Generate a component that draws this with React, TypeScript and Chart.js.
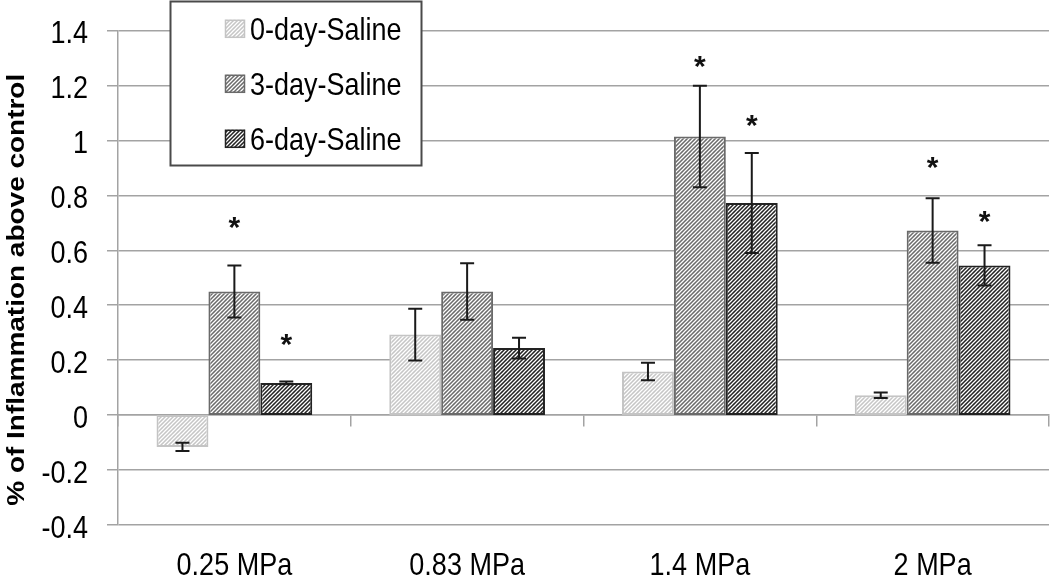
import React, { useEffect, useRef } from 'react';
import { Chart, registerables } from 'chart.js';

Chart.register(...registerables);

// ---------- data ----------
const categories = ['0.25 MPa', '0.83 MPa', '1.4 MPa', '2 MPa'];
const seriesNames = ['0-day-Saline', '3-day-Saline', '6-day-Saline'];

const day0 = [-0.116, 0.293, 0.159, 0.072];
const day0Err = [0.015, 0.094, 0.032, 0.01];
const day3 = [0.45, 0.45, 1.014, 0.672];
const day3Err = [0.095, 0.103, 0.185, 0.117];
const day6 = [0.117, 0.244, 0.772, 0.545];
const day6Err = [0.005, 0.038, 0.182, 0.073];

// significance asterisk positions (value units), null = none
const day0Star: (number | null)[] = [null, null, null, null];
const day3Star: (number | null)[] = [0.699, null, 1.287, 0.918];
const day6Star: (number | null)[] = [0.275, null, 1.071, 0.72];

const yMin = -0.4;
const yMax = 1.4;
const yStep = 0.2;
const yTitle = '% of Inflammation above control';

const seriesValues = [day0, day3, day6];
const seriesErrors = [day0Err, day3Err, day6Err];
const seriesStars = [day0Star, day3Star, day6Star];

// ---------- styles ----------
const FONT = "'Liberation Sans', Arial, sans-serif";
const STRETCH = 1.19; // the source text is slightly tall / condensed
const stripeColors = ['#c6c6c6', '#6c6c6c', '#242424'];
const borderColors = ['#c4c4c4', '#6a6a6a', '#222222'];
const gridColor = '#a3a3a3';

function makePattern(color: string): CanvasPattern | string {
  const p = 4;
  const c = document.createElement('canvas');
  c.width = p;
  c.height = p;
  const g = c.getContext('2d');
  if (!g) return color;
  g.fillStyle = color;
  g.fillRect(0, 0, p, p);
  g.strokeStyle = '#ffffff';
  g.lineWidth = 1.25;
  g.beginPath();
  g.moveTo(-1, p + 1);
  g.lineTo(p + 1, -1);
  g.moveTo(-1, 1);
  g.lineTo(1, -1);
  g.moveTo(p - 1, p + 1);
  g.lineTo(p + 1, p - 1);
  g.stroke();
  return g.createPattern(c, 'repeat') || color;
}

function tallText(
  ctx: CanvasRenderingContext2D,
  text: string,
  x: number,
  baselineY: number,
  align: CanvasTextAlign,
  font: string
) {
  ctx.save();
  ctx.translate(x, baselineY);
  ctx.scale(1, STRETCH);
  ctx.font = font;
  ctx.fillStyle = '#000';
  ctx.textAlign = align;
  ctx.textBaseline = 'alphabetic';
  ctx.fillText(text, 0, 0);
  ctx.restore();
}

const errorBarPlugin = {
  id: 'errorBars',
  afterDatasetsDraw(chart: any) {
    const ctx = chart.ctx as CanvasRenderingContext2D;
    const y = chart.scales.y;
    chart.data.datasets.forEach((ds: any, di: number) => {
      const meta = chart.getDatasetMeta(di);
      const errs = seriesErrors[di];
      const stars = seriesStars[di];
      meta.data.forEach((bar: any, i: number) => {
        const v = ds.data[i] as number;
        const e = errs[i];
        const x = bar.x;
        const yTop = y.getPixelForValue(v + e);
        const yBot = y.getPixelForValue(v - e);
        ctx.save();
        ctx.strokeStyle = '#1a1a1a';
        ctx.lineWidth = 2;
        ctx.beginPath();
        ctx.moveTo(x, yTop);
        ctx.lineTo(x, yBot);
        ctx.moveTo(x - 7, yTop);
        ctx.lineTo(x + 7, yTop);
        ctx.moveTo(x - 7, yBot);
        ctx.lineTo(x + 7, yBot);
        ctx.stroke();
        const s = stars[i];
        if (s !== null && s !== undefined) {
          ctx.font = `bold 30px ${FONT}`;
          ctx.fillStyle = '#111';
          ctx.textAlign = 'center';
          ctx.textBaseline = 'alphabetic';
          const m = ctx.measureText('*');
          const asc = m.actualBoundingBoxAscent;
          const desc = m.actualBoundingBoxDescent;
          const cy = y.getPixelForValue(s);
          ctx.fillText('*', x, cy + (asc - desc) / 2);
        }
        ctx.restore();
      });
    });
  },
};

// axis labels and title, drawn at the positions of the chart's own scales
const axisTextPlugin = {
  id: 'axisText',
  afterDraw(chart: any) {
    const ctx = chart.ctx as CanvasRenderingContext2D;
    const xs = chart.scales.x;
    const ys = chart.scales.y;
    const capHalf = (0.716 * 27 * STRETCH) / 2;
    ys.ticks.forEach((t: any, i: number) => {
      const py = ys.getPixelForTick(i);
      const label = String(Math.round(Number(t.value) * 10) / 10);
      tallText(ctx, label, 88, py + 1.3 + capHalf, 'right', `27px ${FONT}`);
    });
    xs.ticks.forEach((t: any, i: number) => {
      const px = xs.getPixelForTick(i);
      tallText(ctx, String(xs.getLabelForValue(t.value)), px, 563 + capHalf, 'center', `27px ${FONT}`);
    });
    // y title, rotated; stretched along its length
    const area = chart.chartArea;
    ctx.save();
    ctx.translate(18, (area.top + area.bottom) / 2 + 12);
    ctx.rotate(-Math.PI / 2);
    ctx.scale(STRETCH, 1);
    ctx.font = `bold 23.5px ${FONT}`;
    ctx.fillStyle = '#000';
    ctx.textAlign = 'center';
    ctx.textBaseline = 'middle';
    ctx.fillText(yTitle, 0, 0);
    ctx.restore();
  },
};

const boxLegendPlugin = {
  id: 'boxLegend',
  afterDraw(chart: any) {
    const ctx = chart.ctx as CanvasRenderingContext2D;
    const bx = 170.5;
    const by = 1.5;
    const bw = 251;
    const bh = 164;
    ctx.save();
    ctx.fillStyle = '#ffffff';
    ctx.fillRect(bx, by, bw, bh);
    ctx.strokeStyle = '#4a4a4a';
    ctx.lineWidth = 2;
    ctx.strokeRect(bx, by, bw, bh);
    const capHalf = (0.716 * 27 * STRETCH) / 2;
    chart.data.datasets.forEach((ds: any, i: number) => {
      const cy = 28.8 + i * 55;
      ctx.fillStyle = ds.backgroundColor;
      ctx.fillRect(225, cy - 9, 20, 18);
      ctx.strokeStyle = ds.borderColor;
      ctx.lineWidth = 1.5;
      ctx.strokeRect(225.5, cy - 8.5, 19, 17);
      tallText(ctx, ds.label, 250, cy + capHalf, 'left', `27px ${FONT}`);
    });
    ctx.restore();
  },
};

export default function App() {
  const ref = useRef<HTMLCanvasElement>(null);

  useEffect(() => {
    if (!ref.current) return;
    Chart.defaults.font.family = FONT;
    const datasets = seriesValues.map((vals, i) => ({
      label: seriesNames[i],
      data: vals,
      backgroundColor: makePattern(stripeColors[i]),
      borderColor: borderColors[i],
      borderWidth: 2,
      borderSkipped: false,
      categoryPercentage: 0.669,
      barPercentage: 1.0,
    }));

    const chart = new Chart(ref.current, {
      type: 'bar',
      data: { labels: categories, datasets: datasets as any },
      plugins: [errorBarPlugin, axisTextPlugin, boxLegendPlugin],
      options: {
        animation: false,
        responsive: true,
        maintainAspectRatio: false,
        layout: { padding: { top: 30.5, right: 1, left: 0, bottom: 0 } },
        plugins: {
          legend: { display: false },
          tooltip: { enabled: false },
        },
        scales: {
          x: {
            type: 'category',
            position: 'bottom',
            offset: true,
            grid: { display: false, drawTicks: false },
            border: { display: false },
            ticks: { display: false },
            afterFit: (scale: any) => {
              scale.height = 52;
            },
          },
          x2: {
            type: 'category',
            axis: 'x',
            position: { y: 0 } as any,
            offset: true,
            grid: {
              display: true,
              offset: true,
              drawOnChartArea: false,
              drawTicks: true,
              tickLength: 11,
              color: gridColor,
              lineWidth: 1.5,
            },
            border: { display: true, color: gridColor, width: 1.5 },
            ticks: { display: false },
          } as any,
          y: {
            min: yMin,
            max: yMax,
            position: 'left',
            ticks: {
              stepSize: yStep,
              display: false,
            },
            grid: {
              color: gridColor,
              lineWidth: 1.5,
              drawTicks: true,
              tickLength: 11,
            },
            border: { display: true, color: gridColor, width: 1.5 },
            title: { display: false, text: yTitle },
            afterFit: (scale: any) => {
              scale.width = 118;
            },
          },
        },
      },
    });
    return () => chart.destroy();
  }, []);

  return (
    <div style={{ position: 'fixed', left: 0, top: 0, width: 1050, height: 577, background: '#fff' }}>
      <canvas ref={ref} />
    </div>
  );
}
